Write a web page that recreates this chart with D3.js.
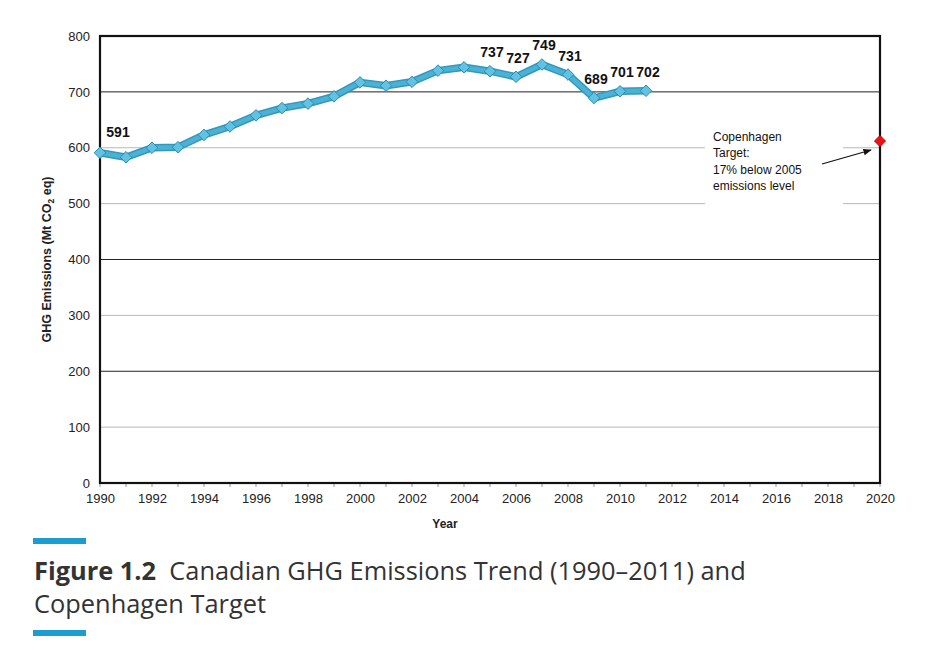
<!DOCTYPE html>
<html>
<head>
<meta charset="utf-8">
<script src="https://cdn.jsdelivr.net/npm/d3@7"></script>
<style>
  body { margin: 0; background: #fff; }
  svg { display: block; }
</style>
</head>
<body>
<script>
var years = [1990, 1991, 1992, 1993, 1994, 1995, 1996, 1997, 1998, 1999, 2000,
             2001, 2002, 2003, 2004, 2005, 2006, 2007, 2008, 2009, 2010, 2011];
var emissions = [591, 583, 600, 601, 623, 638, 658, 671, 679, 692, 717,
                 711, 718, 738, 744, 737, 727, 749, 731, 689, 701, 702];
var labelledYears = [1990, 2005, 2006, 2007, 2008, 2009, 2010, 2011];
var targetYear = [2020];
var targetValue = [612];
var yTicks = [0, 100, 200, 300, 400, 500, 600, 700, 800];
var xTicks = d3.range(1990, 2021, 2);

var w = 932, h = 653;
var plotL = 100, plotR = 880, plotT = 36, plotB = 483;

var svg = d3.select("body").append("svg")
    .attr("width", w)
    .attr("height", h);

var xScale = d3.scaleLinear().domain([1990, 2020]).range([plotL, plotR]);
var yScale = d3.scaleLinear().domain([0, 800]).range([plotB, plotT]);

// gridlines (some print darker in the original)
var darkLines = [700, 400, 200];
svg.append("g").selectAll("line")
   .data(yTicks.filter(function(d) { return d > 0 && d < 800; }))
   .enter().append("line")
   .attr("x1", plotL).attr("x2", plotR)
   .attr("y1", function(d) { return yScale(d); })
   .attr("y2", function(d) { return yScale(d); })
   .attr("stroke", function(d) { return darkLines.indexOf(d) >= 0 ? "#222" : "#b8b8b8"; })
   .attr("stroke-width", 1);

// white box behind the annotation
svg.append("rect")
   .attr("x", 705).attr("y", 124)
   .attr("width", 138).attr("height", 86)
   .attr("fill", "#fff");

// minor ticks under the x axis
svg.append("g").selectAll("line")
   .data(d3.range(1990, 2021))
   .enter().append("line")
   .attr("x1", function(d) { return xScale(d); })
   .attr("x2", function(d) { return xScale(d); })
   .attr("y1", plotB).attr("y2", plotB + 4)
   .attr("stroke", "#999");

// y axis
var yAxis = d3.axisLeft(yScale).tickValues(yTicks).tickSize(0).tickPadding(10);
svg.append("g")
   .attr("transform", "translate(" + plotL + ",0)")
   .call(yAxis)
   .call(function(g) { g.select(".domain").remove(); })
   .selectAll("text")
   .attr("font-family", "Liberation Sans, Arial, sans-serif")
   .attr("font-size", "13px")
   .attr("fill", "#222");

// x axis
var xAxis = d3.axisBottom(xScale).tickValues(xTicks).tickFormat(d3.format("d")).tickSize(0).tickPadding(11);
svg.append("g")
   .attr("transform", "translate(0," + plotB + ")")
   .call(xAxis)
   .call(function(g) { g.select(".domain").remove(); })
   .selectAll("text")
   .attr("font-family", "Liberation Sans, Arial, sans-serif")
   .attr("font-size", "13px")
   .attr("fill", "#222");

// plot frame
svg.append("rect")
   .attr("x", plotL).attr("y", plotT)
   .attr("width", plotR - plotL).attr("height", plotB - plotT)
   .attr("fill", "none")
   .attr("stroke", "#111")
   .attr("stroke-width", 2.2);

// axis titles
svg.append("text")
   .attr("transform", "translate(51," + ((plotT + plotB) / 2) + ") rotate(-90)")
   .attr("text-anchor", "middle")
   .attr("font-family", "Liberation Sans, Arial, sans-serif")
   .attr("font-size", "12.5px")
   .attr("font-weight", "bold")
   .attr("fill", "#222")
   .html('GHG Emissions (Mt CO<tspan font-size="8.5px" dy="3">2</tspan><tspan dy="-3"> eq)</tspan>');

svg.append("text")
   .attr("x", 445).attr("y", 528)
   .attr("text-anchor", "middle")
   .attr("font-family", "Liberation Sans, Arial, sans-serif")
   .attr("font-size", "12px")
   .attr("font-weight", "bold")
   .attr("fill", "#222")
   .text("Year");

// emissions line
var series = years.map(function(d, i) { return { year: d, value: emissions[i] }; });
var line = d3.line()
    .x(function(d) { return xScale(d.year); })
    .y(function(d) { return yScale(d.value); });

svg.append("path")
   .datum(series)
   .attr("d", line)
   .attr("fill", "none")
   .attr("stroke", "#3398bd")
   .attr("stroke-width", 7.5)
   .attr("stroke-linejoin", "round");
svg.append("path")
   .datum(series)
   .attr("d", line)
   .attr("fill", "none")
   .attr("stroke", "#4cb2d5")
   .attr("stroke-width", 4.5)
   .attr("stroke-linejoin", "round");

var diamond = d3.symbol().type(d3.symbolDiamond2).size(85);
svg.append("g").selectAll("path")
   .data(series)
   .enter().append("path")
   .attr("d", diamond)
   .attr("transform", function(d) { return "translate(" + xScale(d.year) + "," + yScale(d.value) + ")"; })
   .attr("fill", "#62c2e2")
   .attr("stroke", "#2a8db3")
   .attr("stroke-width", 1);

// value labels
svg.append("g").selectAll("text")
   .data(series.filter(function(d) { return labelledYears.indexOf(d.year) >= 0; }))
   .enter().append("text")
   .attr("x", function(d) { return xScale(d.year) + (d.year === 1990 ? 18 : 2); })
   .attr("y", function(d) { return yScale(d.value) - (d.year === 1990 ? 16 : 14); })
   .attr("text-anchor", "middle")
   .attr("font-family", "Liberation Sans, Arial, sans-serif")
   .attr("font-size", "14px")
   .attr("font-weight", "bold")
   .attr("fill", "#111")
   .text(function(d) { return d.value; });

// Copenhagen target point
svg.append("g").selectAll("path")
   .data(targetYear)
   .enter().append("path")
   .attr("d", d3.symbol().type(d3.symbolDiamond2).size(80))
   .attr("transform", function(d, i) { return "translate(" + xScale(d) + "," + yScale(targetValue[i]) + ")"; })
   .attr("fill", "#ee1111")
   .attr("stroke", "#b00000")
   .attr("stroke-width", 0.8);

// annotation
var note = ["Copenhagen", "Target:", "17% below 2005", "emissions level"];
svg.append("g").selectAll("text")
   .data(note)
   .enter().append("text")
   .attr("x", 713)
   .attr("y", function(d, i) { return 141 + i * 16.3; })
   .attr("font-family", "Liberation Sans, Arial, sans-serif")
   .attr("font-size", "12px")
   .attr("fill", "#111")
   .text(function(d) { return d; });

svg.append("defs").append("marker")
   .attr("id", "arrow")
   .attr("viewBox", "0 0 10 10")
   .attr("refX", 9).attr("refY", 5)
   .attr("markerWidth", 7).attr("markerHeight", 7)
   .attr("orient", "auto")
   .append("path")
   .attr("d", "M0,1 L10,5 L0,9 Z")
   .attr("fill", "#111");

svg.append("line")
   .attr("x1", 822).attr("y1", 164)
   .attr("x2", xScale(targetYear[0]) - 9).attr("y2", yScale(targetValue[0]) + 9)
   .attr("stroke", "#111")
   .attr("stroke-width", 1.2)
   .attr("marker-end", "url(#arrow)");

// figure caption
svg.append("rect").attr("x", 33).attr("y", 538).attr("width", 53).attr("height", 6).attr("fill", "#1b9dcf");
svg.append("rect").attr("x", 33).attr("y", 630).attr("width", 53).attr("height", 6).attr("fill", "#1b9dcf");

var cap = svg.append("text")
   .attr("x", 34).attr("y", 580)
   .attr("font-family", "Open Sans, sans-serif")
   .attr("font-size", "25.4px")
   .attr("fill", "#333");
cap.append("tspan").attr("font-weight", "bold").text("Figure 1.2");
cap.append("tspan").text("\u00a0 Canadian GHG Emissions Trend (1990\u20132011) and");
svg.append("text")
   .attr("x", 34).attr("y", 613)
   .attr("font-family", "Open Sans, sans-serif")
   .attr("font-size", "25.4px")
   .attr("fill", "#333")
   .text("Copenhagen Target");
</script>
</body>
</html>
